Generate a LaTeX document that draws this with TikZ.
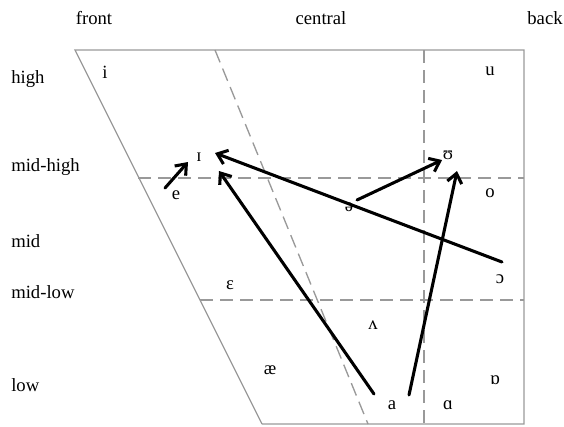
\documentclass[tikz,border=0pt]{standalone}
\usepackage{fontspec}
\setmainfont{Liberation Serif}
\usetikzlibrary{arrows.meta}

\begin{document}
\begin{tikzpicture}[
    x=0.75pt, y=-0.75pt,
    % Styles
    frame line/.style={draw=gray!80, line width=1pt},
    grid line/.style={draw=gray!80, line width=1pt, dash pattern=on 10pt off 5pt},
    shift arrow/.style={-{Straight Barb[length=7pt, width=11pt]}, line width=2.3pt, line cap=round},
    axis label/.style={font=\fontsize{14}{16}\selectfont, inner sep=0pt},
    row label/.style={font=\fontsize{14}{16}\selectfont, anchor=west, inner sep=0pt},
    vowel/.style={font=\fontsize{14}{16}\selectfont, inner sep=1pt}
]
\useasboundingbox (0,0) rectangle (564,426);

% Corners of the vowel space
\coordinate (tl) at (75,50);
\coordinate (tr) at (524,50);
\coordinate (br) at (524,424);
\coordinate (bl) at (262,424);

% Frame
\draw[frame line] (bl) -- (tl) -- (tr) -- (br) -- (bl);

% Dashed divisions
\coordinate (ctop) at (215,50);
\coordinate (cbot) at (368,424);
\coordinate (btop) at (424,50);
\coordinate (bbot) at (424,424);
\coordinate (mhl) at (138,178);
\coordinate (mhr) at (524,178);
\coordinate (mll) at (200,300);
\coordinate (mlr) at (524,300);
\draw[grid line] (ctop) -- (cbot);
\draw[grid line] (btop) -- (bbot);
\draw[grid line] (mhl) -- (mhr);
\draw[grid line] (mll) -- (mlr);

% Column labels
\node[axis label] (front) at (94,18) {front};
\node[axis label] (central) at (321,18) {central};
\node[axis label] (back) at (545,18) {back};

% Row labels
\node[row label] (high) at (11,79) {high};
\node[row label] (midhigh) at (11,167) {mid-high};
\node[row label] (mid) at (11,241) {mid};
\node[row label] (midlow) at (11,292) {mid-low};
\node[row label] (low) at (11,385) {low};

% Vowels
\node[vowel] (i) at (105,72) {i};
\node[vowel] (u) at (490,71) {u};
\node[vowel] (smalli) at (199,157) {ɪ};
\node[vowel] (e) at (176,195) {e};
\node[vowel] (smallu) at (448,155) {ʊ};
\node[vowel] (o) at (490,193) {o};
\node[vowel] (schwa) at (349,207) {ə};
\node[vowel] (openo) at (500,279) {ɔ};
\node[vowel] (eps) at (230,285) {ɛ};
\node[vowel] (wedge) at (373,325) {ʌ};
\node[vowel] (ae) at (270,370) {æ};
\node[vowel] (a) at (392,405) {a};
\node[vowel] (alpha) at (448,405) {ɑ};
\node[vowel] (turnalpha) at (495,380) {ɒ};

% Arrow ends
\coordinate (e start) at (165,188);
\coordinate (e end) at (188,162);
\coordinate (openo start) at (502,262);
\coordinate (openo end) at (215,153);
\coordinate (a start) at (374,394);
\coordinate (a end) at (219,171);
\coordinate (schwa start) at (357,200);
\coordinate (schwa end) at (442,160);
\coordinate (a2 start) at (409,395);
\coordinate (a2 end) at (457,171);

% Shifts
\draw[shift arrow] (e start) -- (e end);
\draw[shift arrow] (openo start) -- (openo end);
\draw[shift arrow] (a start) -- (a end);
\draw[shift arrow] (schwa start) -- (schwa end);
\draw[shift arrow] (a2 start) -- (a2 end);

\end{tikzpicture}
\end{document}
